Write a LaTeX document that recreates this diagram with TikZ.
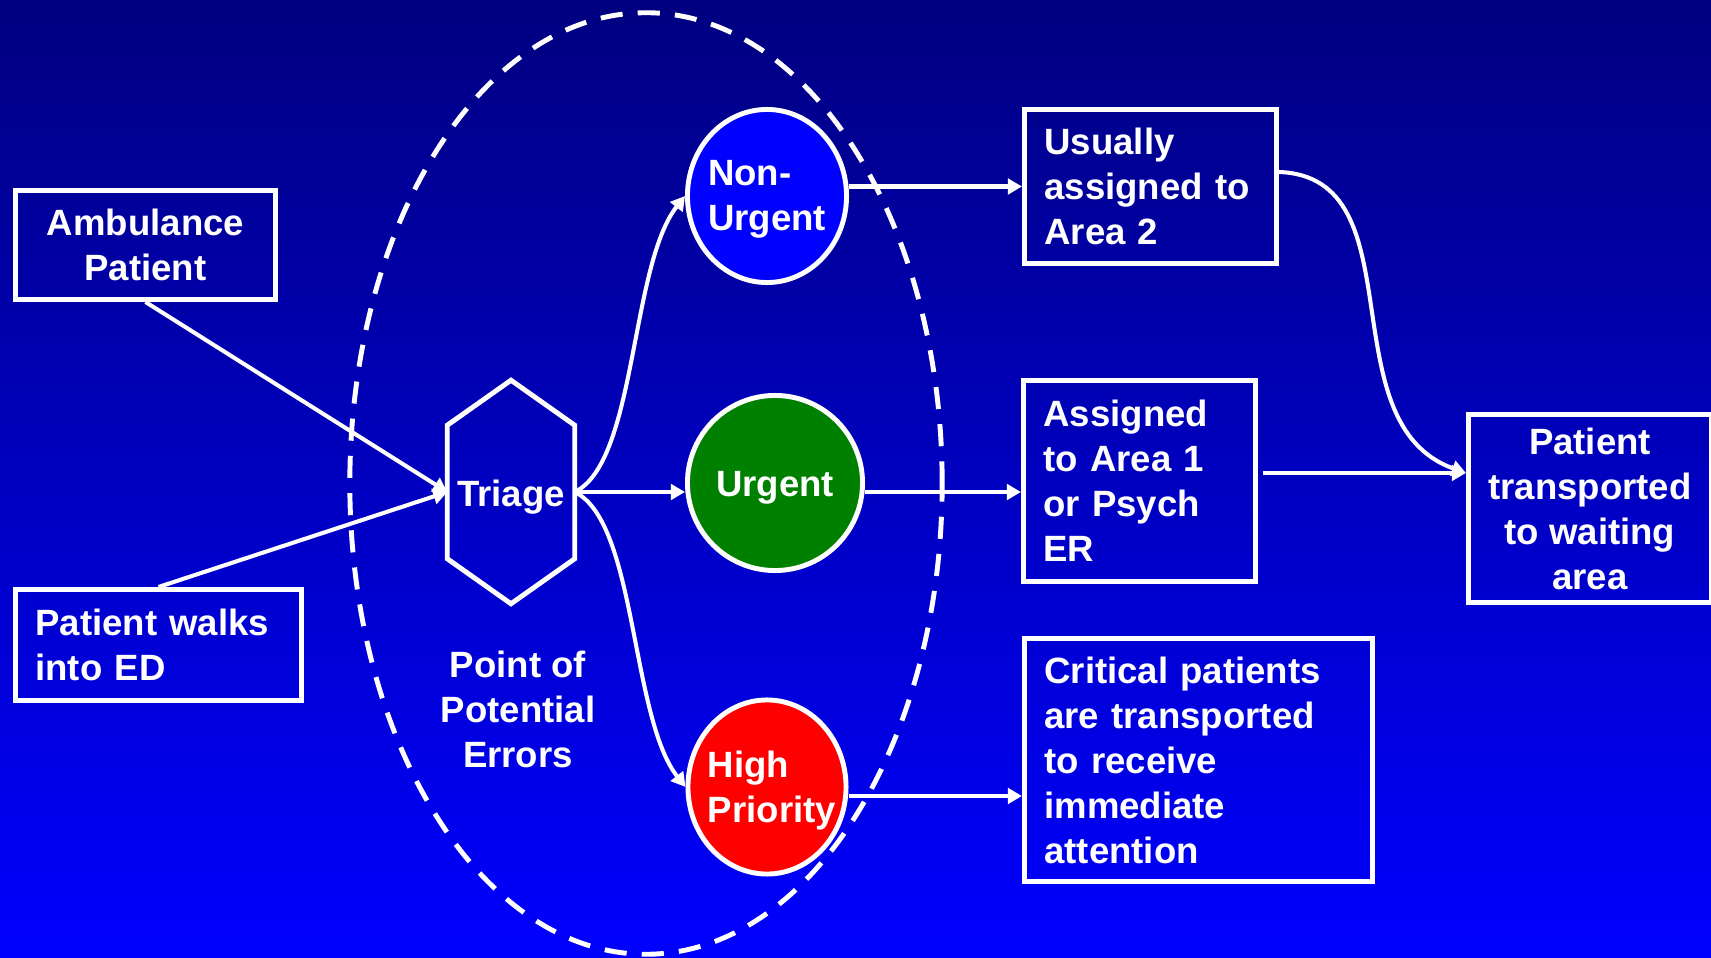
\documentclass[tikz,border=0pt]{standalone}
\usepackage{fontspec}
\setmainfont{Liberation Sans}
\usetikzlibrary{arrows.meta,shapes.geometric}

\definecolor{deepnavy}{RGB}{0,0,128}
\definecolor{brightblue}{RGB}{0,0,255}
\definecolor{okgreen}{RGB}{0,128,0}
\definecolor{alarmred}{RGB}{255,0,0}

\tikzset{
    every node/.style={font=\bfseries\fontsize{10.4}{12.8}\selectfont, text=white},
    boxed/.style={draw=white, line width=1.4pt, inner xsep=0.2cm, inner ysep=0pt},
    leftbox/.style={boxed, align=left, text width=#1},
    midbox/.style={boxed, align=center},
    level/.style={ellipse, draw=white, line width=1.4pt, inner sep=0pt},
    flow/.style={draw=white, line width=1.15pt, -{Triangle[length=4pt,width=4.4pt]}},
}

\begin{document}
\begin{tikzpicture}[x=0.01cm, y=0.01cm]
    \useasboundingbox (0,0) rectangle (1711,-958);
    \shade[top color=deepnavy, bottom color=brightblue] (0,0) rectangle (1711,-958);

    % zone of possible mistakes
    \draw[white, line width=1.4pt, dash pattern=on 6.3pt off 4.3pt]
        (646,-483.5) ellipse [x radius=2.96cm, y radius=4.705cm];

    % arrivals
    \node[midbox, minimum width=2.6cm, minimum height=1.09cm] (amb) at (145.5,-245) {Ambulance\\Patient};
    \node[leftbox=2.46cm, minimum height=1.11cm] (walk) at (158.5,-645) {Patient walks\\into ED};

    % triage
    \node[minimum width=1.26cm, minimum height=2.22cm, inner sep=0pt,
        label={[yshift=-0.05cm]center:Triage}] (triage) at (511,-492) {};
    \draw[white, line width=1.4pt] (triage.north) -- ([yshift=-0.45cm]triage.north east)
        -- ([yshift=0.45cm]triage.south east) -- (triage.south)
        -- ([yshift=0.45cm]triage.south west) -- ([yshift=-0.45cm]triage.north west) -- cycle;
    \node[align=center] (errors) at (518,-709) {Point of\\Potential\\Errors};

    % levels
    \node[level, fill=brightblue, minimum width=1.59cm, minimum height=1.73cm,
        label={[align=left, yshift=-0.035cm]center:Non-\\Urgent}] (nonurg) at (767,-196) {};
    \node[level, fill=okgreen, minimum width=1.75cm, minimum height=1.75cm,
        label={[yshift=-0.05cm]center:Urgent}] (urgent) at (775,-483) {};
    \node[level, fill=alarmred, minimum width=1.58cm, minimum height=1.74cm,
        label={[align=left, xshift=0.05cm, yshift=-0.04cm]center:High\\Priority}] (high) at (767,-787) {};

    % outcomes
    \node[leftbox=2.12cm, minimum height=1.54cm] (usual) at (1150.5,-186.5) {Usually\\assigned to\\Area 2};
    \node[leftbox=1.92cm, minimum height=2.01cm] (assigned) at (1139.5,-481) {Assigned\\to Area 1\\or Psych\\ER};
    \node[leftbox=3.08cm, minimum height=2.43cm] (crit) at (1198.5,-760) {Critical patients\\are transported\\to receive\\immediate\\attention};
    \node[midbox, minimum width=2.35cm, minimum height=1.88cm] (transp) at (1590,-508.5) {Patient\\transported\\to waiting\\area};
    \coordinate (tin) at ([yshift=0.355cm]transp.west);

    % connectors
    \draw[flow] (amb.south) -- (triage.west);
    \draw[flow] (walk.north) -- (triage.west);
    \draw[flow] (triage.east) .. controls +(62,30) and +(-55,-70) .. (nonurg.west);
    \draw[flow] (triage.east) -- (triage.east -| urgent.west);
    \draw[flow] (triage.east) .. controls +(62,-30) and +(-55,70) .. (high.west);
    \draw[flow] (nonurg.east |- usual.west) -- (usual.west);
    \draw[flow] (triage.east -| urgent.east) -- (triage.east -| assigned.west);
    \draw[flow] ([yshift=-0.09cm]high.east) -- ([yshift=-0.09cm]high.east -| crit.west);
    \draw[flow] ([yshift=0.145cm]usual.east) .. controls +(140,-5) and +(-140,50) .. (tin);
    \draw[flow, shorten <=0.05cm] (assigned.east |- tin) -- (tin);
\end{tikzpicture}
\end{document}
